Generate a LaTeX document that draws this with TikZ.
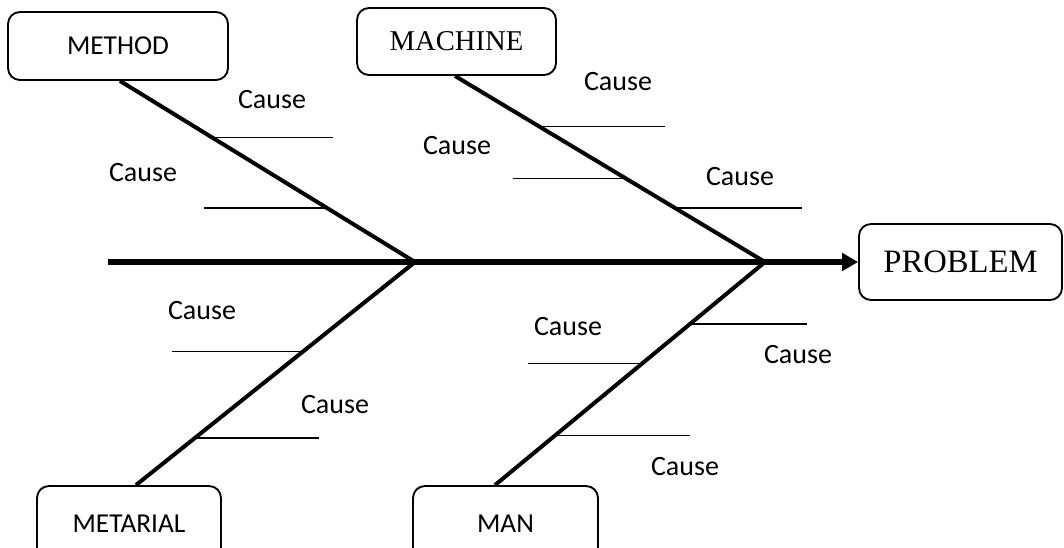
\documentclass[tikz,border=0pt]{standalone}
\usepackage{fontspec}
\setmainfont{Carlito}
\newfontfamily\serifface{Liberation Serif}
\usetikzlibrary{arrows.meta,calc}
\begin{document}
\begin{tikzpicture}[x=0.75pt,y=-0.75pt,
  catbox/.style={draw,line width=1.4pt,rounded corners=9pt,inner sep=0pt,
    font=\fontsize{20.5}{24}\selectfont},
  serifbox/.style={catbox,font=\serifface\fontsize{21.5}{26}\selectfont},
  bone/.style={line width=3pt},
  spine/.style={line width=4.5pt,-{Triangle[length=12pt,width=13pt]}},
  tick/.style={line width=1.1pt},
  cause/.style={font=\fontsize{21}{25}\selectfont,inner sep=0pt}]
\useasboundingbox (0,0) rectangle (1064,547);
\clip (0,0) rectangle (1064,547);

% category boxes
\node[catbox,minimum width=165pt,minimum height=51pt] (method) at (118,46) {METHOD};
\node[serifbox,minimum width=149.25pt,minimum height=50.25pt] (machine) at (456.5,41.5) {MACHINE};
\node[serifbox,minimum width=152.25pt,minimum height=57pt,font=\serifface\fontsize{24.5}{29}\selectfont] (problem) at (960.5,262) {PROBLEM};
\node[catbox,minimum width=138pt,minimum height=57pt] (metarial) at (129,524) {METARIAL};
\node[catbox,minimum width=138.75pt,minimum height=57pt] (man) at (505.5,524) {MAN};

% spine and junctions
\coordinate (tail) at (108,262);
\coordinate (j1) at (415,262);
\coordinate (j2) at (765,262);
\draw[spine] (tail) -- (problem.west);

% main bones with anchor points for the cause lines
\draw[bone] ($(method.south)+(2,0)$) -- (j1)
  coordinate[pos=0.313] (m1) coordinate[pos=0.703] (m2);
\draw[bone] ($(machine.south)+(-1.5,0)$) -- (j2)
  coordinate[pos=0.273] (c1) coordinate[pos=0.551] (c2) coordinate[pos=0.711] (c3);
\draw[bone] (j1) -- ($(metarial.north)+(7,0)$)
  coordinate[pos=0.402] (t1) coordinate[pos=0.790] (t2);
\draw[bone] (j2) -- ($(man.north)+(-10.5,0)$)
  coordinate[pos=0.277] (n1) coordinate[pos=0.455] (n2) coordinate[pos=0.777] (n3);

% cause lines
\draw[tick] (m1) -- ++(121,0);
\draw[tick] (m2) -- ++(-123,0);
\draw[tick] (c1) -- ++(125,0);
\draw[tick] (c2) -- ++(-113,0);
\draw[tick] (c3) -- ++(127,0);
\draw[tick] (t1) -- ++(-131,0);
\draw[tick] (t2) -- ++(124,0);
\draw[tick] (n1) -- ++(117,0);
\draw[tick] (n2) -- ++(-114,0);
\draw[tick] (n3) -- ++(135,0);

% cause labels
\node[cause] (lm1) at (272,100) {Cause};
\node[cause] (lm2) at (143,173) {Cause};
\node[cause] (lc1) at (618,82) {Cause};
\node[cause] (lc2) at (457,146) {Cause};
\node[cause] (lc3) at (740,177) {Cause};
\node[cause] (lt1) at (202,311) {Cause};
\node[cause] (lt2) at (335,405) {Cause};
\node[cause] (ln1) at (568,327) {Cause};
\node[cause] (ln2) at (798,355) {Cause};
\node[cause] (ln3) at (685,467) {Cause};
\end{tikzpicture}
\end{document}
